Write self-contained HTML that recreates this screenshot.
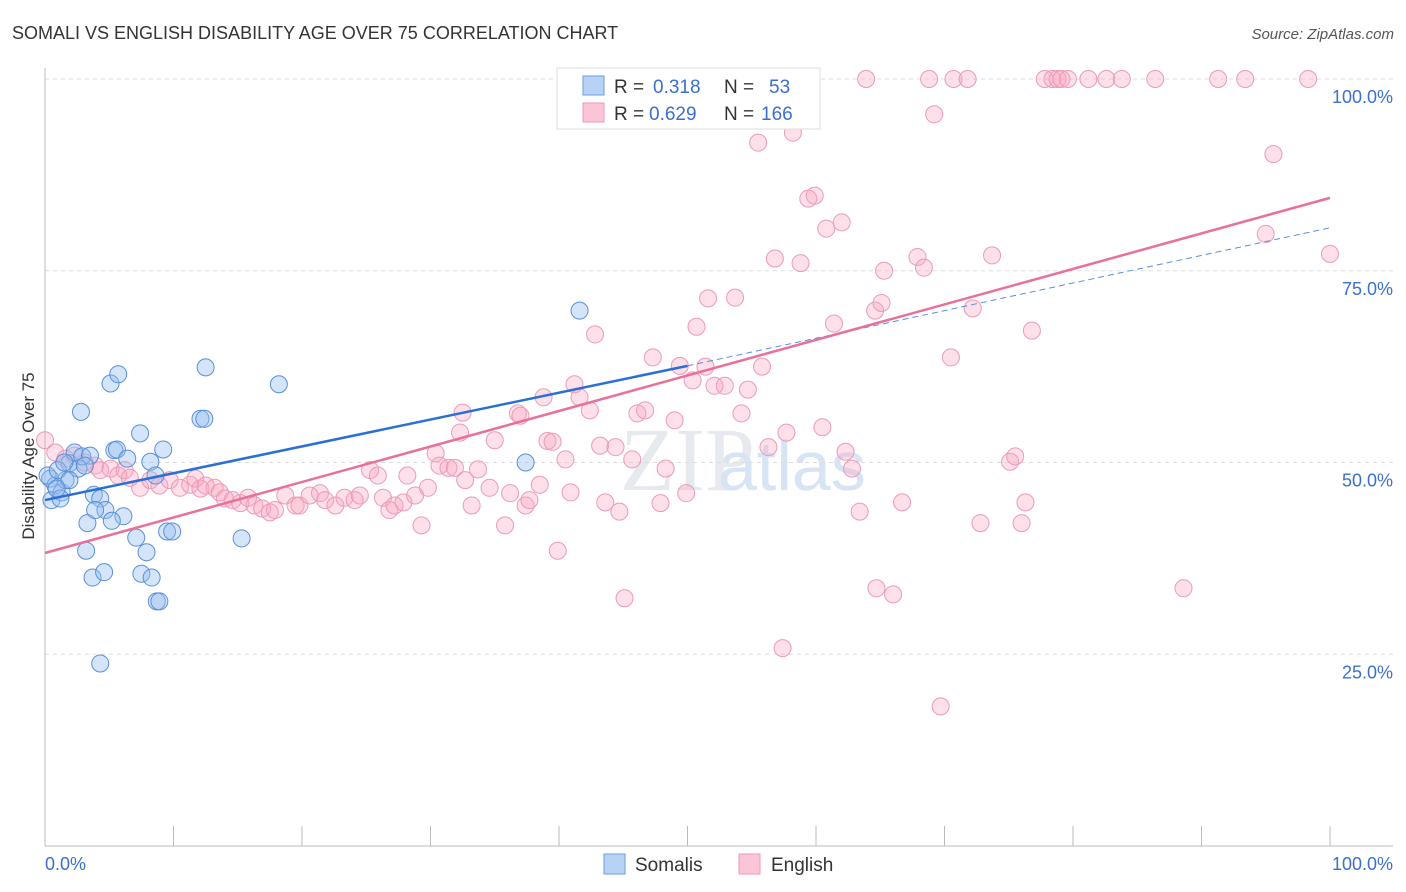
<!DOCTYPE html>
<html><head><meta charset="utf-8"><style>
body{margin:0;background:#fff;font-family:"Liberation Sans",sans-serif;}
svg{display:block}
</style></head><body>
<svg id="chart" width="1406" height="892">
<text x="12" y="39" font-size="18" fill="#333">SOMALI VS ENGLISH DISABILITY AGE OVER 75 CORRELATION CHART</text>
<text x="1394" y="39" font-size="15" fill="#555" font-style="italic" text-anchor="end">Source: ZipAtlas.com</text>
<text x="34" y="456" font-size="17" fill="#333" text-anchor="middle" transform="rotate(-90 34 456)">Disability Age Over 75</text>
<text x="620" y="490" font-size="90" fill="#e6e9ee" font-family="Liberation Serif">ZIP</text>
<text x="718" y="490" font-size="70" fill="#d7e4f5">atlas</text>
<g id="grid"></g><g id="pts"></g><g id="lines"></g>
<g>
<rect x="557" y="68" width="263" height="61" fill="#fff" stroke="#ddd"/>
<rect x="583" y="76" width="21" height="19" fill="#b7d2f4" stroke="#6a9ee0"/>
<rect x="583" y="103" width="21" height="19" fill="#fac5d5" stroke="#ec9ab6"/>
<text x="614" y="93" font-size="19" fill="#333">R = </text><text x="653" y="93" font-size="19" fill="#3a6fd0">0.318</text>
<text x="724" y="93" font-size="19" fill="#333">N = </text><text x="769" y="93" font-size="19" fill="#3a6fd0">53</text>
<text x="614" y="120" font-size="19" fill="#333">R = </text><text x="649" y="120" font-size="19" fill="#3a6fd0">0.629</text>
<text x="724" y="120" font-size="19" fill="#333">N = </text><text x="761" y="120" font-size="19" fill="#3a6fd0">166</text>
</g>
<g>
<rect x="604" y="854" width="21" height="20" fill="#b7d2f4" stroke="#6a9ee0"/>
<text x="635" y="871" font-size="19" fill="#333">Somalis</text>
<rect x="739" y="854" width="21" height="20" fill="#fac5d5" stroke="#ec9ab6"/>
<text x="771" y="871" font-size="19" fill="#333">English</text>
</g>
<text x="45" y="870" font-size="18" fill="#3a6fd0">0.0%</text>
<text x="1393" y="870" font-size="18" fill="#3a6fd0" text-anchor="end">100.0%</text>
</svg>
<script>
const yTicks=[25,50,75,100];
const blueX=[0.4,0.8,0.5,1.3,1.2,1.6,1.9,2.3,2.6,2.9,2.8,3.2,3.3,3.7,3.8,4.3,4.3,4.6,4.7,5.1,5.4,5.6,5.7,6.1,6.4,7.1,7.4,7.5,7.9,8.2,8.3,8.7,8.9,9.2,9.5,9.9,12.1,12.4,12.5,15.3,18.2,37.4,41.6,0.2,1.0,3.5,5.2,1.5,8.6,1.9,0.9,3.1,3.9];
const blueY=[47.9,47.0,45.1,46.1,45.3,47.7,49.9,51.3,49.2,50.8,56.6,38.5,42.1,35.0,45.8,45.3,23.8,35.7,43.8,60.3,51.6,51.7,61.5,43.0,50.5,40.2,53.8,35.5,38.3,50.1,35.0,31.9,31.9,51.7,41.0,41.0,55.7,55.7,62.4,40.1,60.2,50.0,69.8,48.3,49.0,50.9,42.4,50.0,48.3,47.7,46.6,49.6,43.8];
const pinkX=[0,0.8,1.6,2.3,3.1,3.9,4.3,5.1,5.7,6.2,6.6,7.4,8.2,8.9,9.7,10.5,11.3,11.7,12.1,12.5,13.2,13.6,14.0,14.6,15.2,15.8,16.3,16.9,17.5,17.9,18.7,19.5,19.8,20.6,21.4,21.8,22.6,23.3,24.1,24.5,25.3,25.9,26.3,26.8,27.2,27.9,28.2,28.8,29.3,29.8,30.4,30.7,31.4,31.9,32.3,32.5,32.7,33.2,33.7,34.6,35.0,35.8,36.2,36.8,37.0,37.4,37.7,38.5,38.8,39.1,39.5,39.9,40.5,40.9,41.2,41.6,42.4,42.8,43.2,43.6,44.4,44.7,45.1,45.7,46.1,46.7,47.3,47.9,48.3,49.0,49.4,49.9,50.4,50.7,51.4,51.6,52.1,52.9,53.7,54.2,54.7,55.5,55.8,56.3,56.8,57.4,57.7,58.2,58.8,59.4,59.9,60.5,60.8,61.4,62.0,62.3,62.8,63.4,63.9,64.6,64.7,65.1,65.3,66.0,66.7,67.9,68.4,68.8,69.2,69.7,70.5,70.7,71.8,72.2,72.8,73.7,75.1,75.5,76.0,76.3,76.8,77.8,78.4,78.8,79.1,79.6,81.2,82.6,83.8,86.4,88.6,91.3,93.4,95.0,95.6,98.3,100];
const pinkY=[52.9,51.3,50.5,50.9,50.0,49.6,49.0,49.2,48.3,49.0,48.0,46.7,47.7,47.0,47.7,46.7,47.1,47.9,46.6,47.0,46.7,46.1,45.3,45.1,44.7,45.4,44.4,44.0,43.5,43.8,45.7,44.4,44.4,45.7,46.0,45.1,44.4,45.4,45.1,45.7,49.0,48.3,45.4,43.8,44.4,44.8,48.3,45.7,41.8,46.7,51.2,49.6,49.3,49.3,53.9,56.5,47.7,44.4,49.1,46.7,52.9,41.8,46.0,56.4,56.1,44.4,45.1,47.1,58.5,52.8,52.7,38.5,50.4,46.1,60.2,58.5,56.8,66.7,52.2,44.8,52.0,43.6,32.3,50.4,56.4,56.8,63.7,44.7,49.2,55.5,62.6,46.0,60.7,67.7,62.5,71.4,60.0,60.0,71.5,56.4,59.5,91.7,62.5,52.0,76.6,25.8,53.9,93.0,76.0,84.4,84.8,54.6,80.5,68.1,81.3,51.4,49.2,43.6,100,69.8,33.6,70.8,75.0,32.8,44.8,76.8,75.4,100,95.4,18.2,63.7,100,100,70.1,42.1,77.0,50.1,50.8,42.1,44.8,67.2,100,100,100,100,100,100,100,100,100,33.6,100,100,79.8,90.2,100,77.2];
const blueLine=[[0,45.1],[50,62.6]], blueDash=[[50,62.6],[100,80.6]];
const pinkLine=[[0,38.2],[100,84.5]];
const NS="http://www.w3.org/2000/svg";
const X0=45,X1=1330,Y0=846,Y1=79;
const sx=v=>X0+(X1-X0)*v/100, sy=v=>Y0-(Y0-Y1)*v/100;
function mk(t,a,p){const e=document.createElementNS(NS,t);for(const k in a)e.setAttribute(k,a[k]);p.appendChild(e);return e;}
const g=document.getElementById('grid');
yTicks.forEach(t=>{
 const l=mk('line',{x1:45,x2:1393,y1:sy(t),y2:sy(t),stroke:'#ddd','stroke-dasharray':'4,4'},g);
 
 
 const tx=mk('text',{x:1393,y:sy(t)+24,'font-size':18,fill:'#3a6fd0','text-anchor':'end'},g);
 tx.textContent=t.toFixed(1)+'%';
 
 
});
mk('line',{x1:45,x2:45,y1:68,y2:846,stroke:'#bbb'},g);
mk('line',{x1:45,x2:1393,y1:846,y2:846,stroke:'#bbb'},g);
for(let i=0;i<=10;i++){mk('line',{x1:sx(i*10),x2:sx(i*10),y1:826,y2:846,stroke:'#bbb'},g);}
const p=document.getElementById('pts');
pinkX.forEach((x,i)=>{const c=mk('circle',{cx:sx(x),cy:sy(pinkY[i]),r:8.5,fill:'rgba(248,165,192,0.35)',stroke:'#ec9ab6','stroke-width':1},p);
 
 });
blueX.forEach((x,i)=>{const c=mk('circle',{cx:sx(x),cy:sy(blueY[i]),r:8.5,fill:'rgba(150,190,240,0.4)',stroke:'#5a8fd8','stroke-width':1},p);
 
 });
const L=document.getElementById('lines');
function ln(d,st,dash,name){const e=mk('line',{x1:sx(d[0][0]),y1:sy(d[0][1]),x2:sx(d[1][0]),y2:sy(d[1][1]),stroke:st,'stroke-width':dash?1:2.5},L);if(dash)e.setAttribute('stroke-dasharray','6,4');
 
 }
ln(blueDash,'#5a8fd8',true,'somali-trend-extension');
ln(pinkLine,'#e8709a',false,'english-trend-line');
ln(blueLine,'#2a6fd6',false,'somali-trend-line');
</script>
</body></html>
